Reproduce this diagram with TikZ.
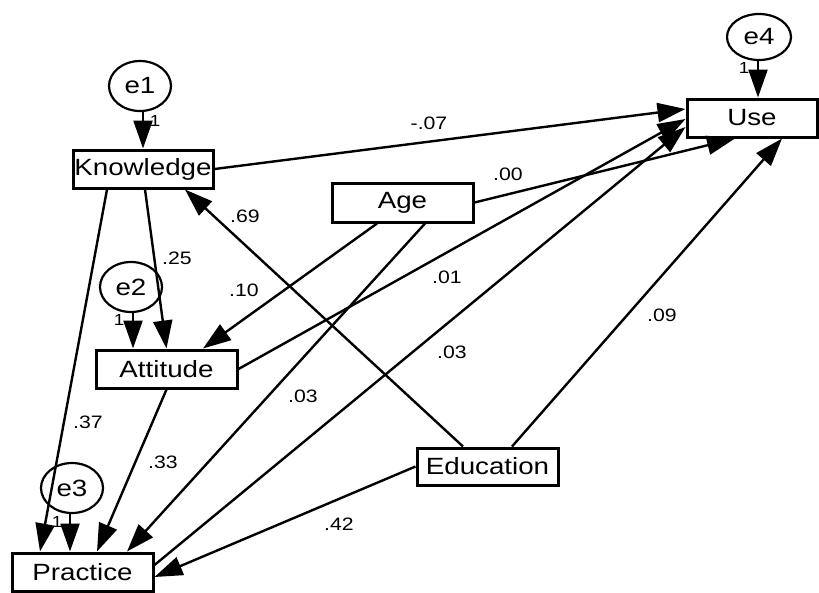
\documentclass[tikz,border=0pt]{standalone}
\usepackage{fontspec}
\setmainfont{Liberation Sans}[FakeStretch=1.18]
\usetikzlibrary{shapes.geometric,arrows.meta}
\newcommand\bxfont{\fontsize{23.5}{27}\selectfont}
\newcommand\cffont{\fontsize{18}{21}\selectfont}
\newcommand\onfont{\fontsize{16}{18}\selectfont}
\tikzset{
  var/.style={draw, line width=3pt, minimum width=141pt, minimum height=38pt, inner sep=0pt, font=\bxfont},
  err/.style={draw, ellipse, line width=2.2pt, minimum width=62pt, minimum height=50pt, inner sep=0pt, font=\bxfont},
  pth/.style={line width=2.4pt, -{Triangle[length=28pt,width=19pt]}},
  coef/.style={font=\cffont, inner sep=0pt},
  one/.style={font=\onfont, inner sep=0pt},
}
\begin{document}
\begin{tikzpicture}[x=1pt,y=-1pt]
\useasboundingbox (0,0) rectangle (819,592);
% nodes
\node[err] (e1) at (140,86) {e1};
\node[var, minimum width=140pt] (K) at (143,169) {Knowledge};
\node[err] (e2) at (131,287) {e2};
\node[var] (Att) at (166.5,369) {Attitude};
\node[err] (e3) at (72,488) {e3};
\node[var] (Pr) at (82.5,572) {Practice};
\node[var, minimum height=39pt] (Age) at (402.5,202.5) {Age};
\node[var, minimum width=130pt] (Use) at (752,118) {Use};
\node[err, minimum width=64pt, minimum height=46pt] (e4) at (759,37) {e4};
\node[var, minimum height=37pt] (Edu) at (487.5,466.5) {Education};
% error paths
\draw[pth] ([xshift=3pt]e1.south) -- ([xshift=3pt]e1.south |- K.north);
\draw[pth] ([xshift=2pt]e2.south) -- ([xshift=2pt]e2.south |- Att.north);
\draw[pth] ([xshift=-2pt]e3.south) -- ([xshift=-2pt]e3.south |- Pr.north);
\draw[pth] ([xshift=-1pt]e4.south) -- ([xshift=-1pt]e4.south |- Use.north);
\node[one] (o1) at (155,121) {1};
\node[one] (o2) at (119,320) {1};
\node[one] (o3) at (57,522) {1};
\node[one] (o4) at (744,68) {1};
% structural paths
\draw[pth] ([xshift=2pt]K.south) -- (Att.north);
\draw[pth] ([xshift=-36pt]K.south) -- ([xshift=-42.5pt]Pr.north);
\draw[pth] (Att.south) -- ([xshift=14.5pt]Pr.north);
\draw[pth] ([xshift=-25.5pt]Age.south) -- ([xshift=36.5pt]Att.north);
\draw[pth] ([xshift=22.5pt]Age.south) -- ([xshift=44.5pt]Pr.north);
\draw[pth] (Age.east) -- ([xshift=-17pt]Use.south);
\draw[pth] (K.east) -- ([yshift=9pt]Use.west);
\draw[pth] (Att.east) -- ([yshift=-1pt]Use.west);
\draw[pth] ([yshift=7pt]Pr.east) -- ([yshift=-9pt]Use.west);
\draw[pth] ([xshift=-24.5pt]Edu.north) -- ([xshift=42pt]K.south);
\draw[pth] ([xshift=24.5pt]Edu.north) -- ([xshift=30pt]Use.south);
\draw[pth] (Edu.west) -- ([yshift=-5pt]Pr.east);
% coefficients
\node[coef] (c1) at (177,258) {.25};
\node[coef] (c2) at (88,422) {.37};
\node[coef] (c3) at (163,462) {.33};
\node[coef] (c4) at (244,290) {.10};
\node[coef] (c5) at (303,396) {.03};
\node[coef] (c6) at (508,174) {.00};
\node[coef] (c7) at (429,123) {-.07};
\node[coef] (c8) at (447,277) {.01};
\node[coef] (c9) at (452,352) {.03};
\node[coef] (c10) at (245,216) {.69};
\node[coef] (c11) at (662,315) {.09};
\node[coef] (c12) at (339,524) {.42};
\end{tikzpicture}
\end{document}
